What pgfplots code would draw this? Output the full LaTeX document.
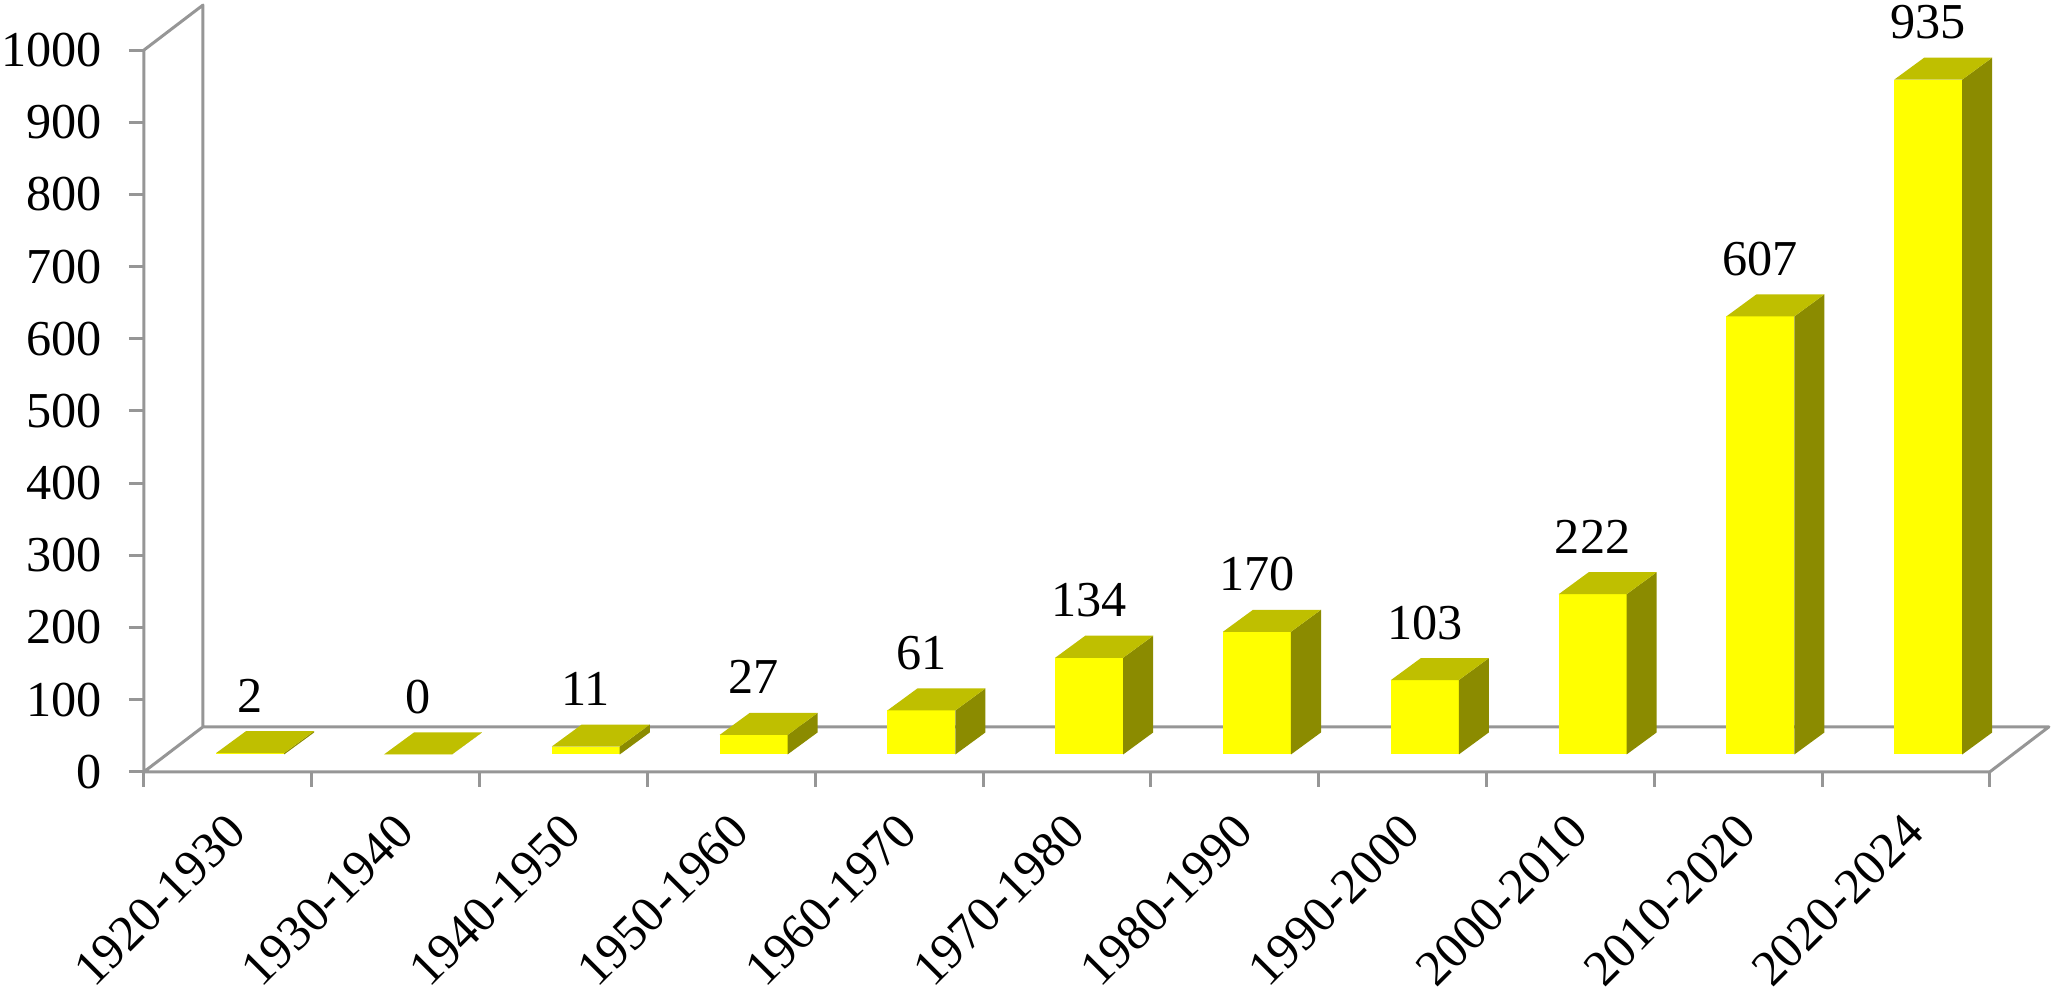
\documentclass[border=0pt]{standalone}
\usepackage{fontspec}
\setmainfont{Liberation Serif}
\usepackage{pgfplots}
\usepackage{pgfplotstable}
\pgfplotsset{compat=1.18}
\definecolor{axisgray}{RGB}{150,150,150}
\definecolor{barfront}{RGB}{255,255,0}
\definecolor{bartop}{RGB}{191,191,0}
\definecolor{barside}{RGB}{139,139,0}

\pgfplotstableread{
i v
0 2
1 0
2 11
3 27
4 61
5 134
6 170
7 103
8 222
9 607
10 935
}\data

\newcommand{\lblfont}{\fontsize{14.3}{17}\selectfont}
% bar geometry in axis units
\def\bx{0.43}
\def\bw{0.405}
\def\bb{24}
\def\ddx{0.179}
\def\ddy{30.5}

\begin{document}
\begin{tikzpicture}
\begin{axis}[
  x=1.678cm, y=0.00722cm,
  xmin=0, xmax=11.36, ymin=0, ymax=1064,
  clip=false,
  axis line style={draw=none},
  tick pos=left,
  tick align=outside,
  major tick length=0.15cm,
  minor tick length=0.15cm,
  ytick={0,100,...,1000},
  y tick style={draw=axisgray, line width=0.03cm},
  xtick={0.5,1.5,2.5,3.5,4.5,5.5,6.5,7.5,8.5,9.5,10.5},
  xticklabels={1920-1930,1930-1940,1940-1950,1950-1960,1960-1970,1970-1980,1980-1990,1990-2000,2000-2010,2010-2020,2020-2024},
  minor xtick={0,1,2,3,4,5,6,7,8,9,10,11},
  major x tick style={draw=none},
  minor x tick style={draw=axisgray, line width=0.03cm},
  scaled y ticks=false,
  /pgf/number format/assume math mode=true,
  /pgf/number format/1000 sep={},
  tick label style={font=\lblfont},
  yticklabel style={xshift=-0.15cm},
  xticklabel style={inner sep=0pt, xshift=0.09cm, yshift=-0.36cm, rotate=45, anchor=east},
]
\addplot[axisgray, line width=0.03cm, line join=round] coordinates {(0.3516,62.3) (0,0) (0,1000) (0.3516,1062.3) (0.3516,62.3) (11.3516,62.3) (11,0) (0,0)};

\pgfplotsinvokeforeach{0,...,10}{
  \pgfplotstablegetelem{#1}{v}\of\data
  \let\val\pgfplotsretval
  \pgfmathsetmacro\xa{#1+\bx}
  \pgfmathsetmacro\xb{#1+\bx+\bw}
  \pgfmathsetmacro\xc{#1+\bx+\bw+\ddx}
  \pgfmathsetmacro\xd{#1+\bx+\ddx}
  \pgfmathsetmacro\ya{\bb}
  \pgfmathsetmacro\yb{\bb+\val}
  \pgfmathsetmacro\yc{\bb+\val+\ddy}
  \pgfmathsetmacro\yd{\bb+\ddy}
  \edef\temp{%
    \noexpand\addplot[fill=barfront, draw=none] coordinates {(\xa,\ya) (\xb,\ya) (\xb,\yb) (\xa,\yb)};
    \noexpand\addplot[fill=barside, draw=none] coordinates {(\xb,\ya) (\xc,\yd) (\xc,\yc) (\xb,\yb)};
    \noexpand\addplot[fill=bartop, draw=none] coordinates {(\xa,\yb) (\xb,\yb) (\xc,\yc) (\xd,\yc)};
  }\temp
}

\addplot[draw=none, nodes near coords, point meta=explicit,
  nodes near coords style={font=\lblfont, anchor=base, yshift=0.41cm, inner sep=0pt}]
  table[x expr=\thisrow{i}+\bx+0.5*\bw, y expr=\thisrow{v}+\bb, meta=v] {\data};

\coordinate (BBa) at (axis cs:-0.858,1069.3);
\coordinate (BBb) at (axis cs:11.394,-308.9);
\end{axis}
\pgfresetboundingbox
\useasboundingbox (BBa) rectangle (BBb);
\end{tikzpicture}
\end{document}
